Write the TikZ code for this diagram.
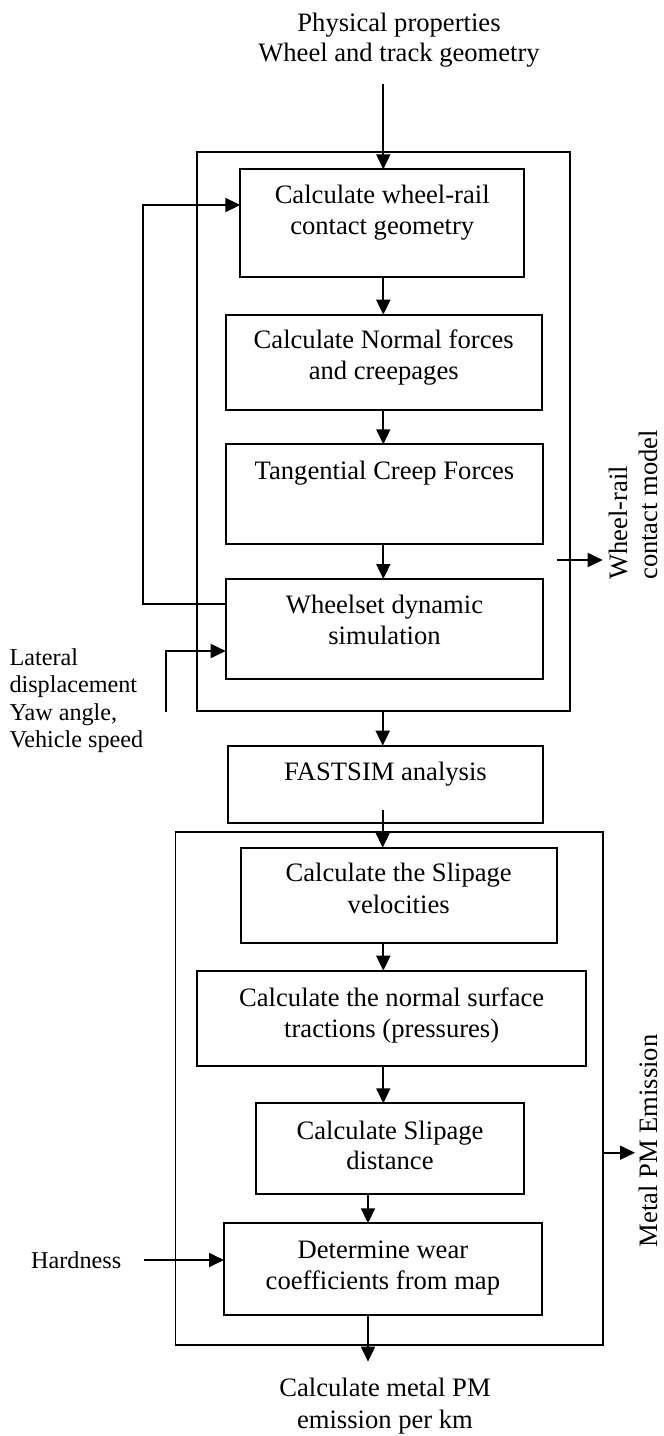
\documentclass[tikz,border=0pt]{standalone}
\usepackage{fontspec}
\setmainfont{Liberation Serif}
\usetikzlibrary{arrows.meta}
\begin{document}
\begin{tikzpicture}[x=1pt,y=-1pt,
  box/.style={draw, line width=1.8pt, inner sep=0pt, outer sep=0pt},
  txt/.style={anchor=base, inner sep=0pt, font=\fontsize{26.6}{31}\selectfont},
  sml/.style={anchor=base west, inner sep=0pt, font=\fontsize{24.2}{28}\selectfont},
  arr/.style={line width=1.8pt, -{Triangle[length=15pt,width=14pt]}},
  ln/.style={line width=1.8pt}]
\useasboundingbox (0,0) rectangle (664,1436);
% outer boxes
\node[box, minimum width=372.7pt, minimum height=559.3pt] (o1) at (383.65,431.35) {};
\node[box, minimum width=427.8pt, minimum height=513.3pt] (o2) at (389.4,1088.35) {};
% inner boxes
\node[box, minimum width=283.7pt, minimum height=108pt] (b1) at (382.2,223.3) {};
\node[box, minimum width=316pt, minimum height=95.3pt] (b2) at (383.7,362.35) {};
\node[box, minimum width=317.6pt, minimum height=100pt] (b3) at (384.5,494.3) {};
\node[box, minimum width=317.6pt, minimum height=100pt] (b4) at (384.5,629) {};
\node[box, minimum width=315.6pt, minimum height=77pt] (bF) at (385.5,784.2) {};
\node[box, minimum width=316pt, minimum height=95.6pt] (b5) at (398.7,895.5) {};
\node[box, minimum width=388.7pt, minimum height=95.3pt] (b6) at (391.65,1018.35) {};
\node[box, minimum width=268pt, minimum height=90.4pt] (b7) at (390,1148.5) {};
\node[box, minimum width=317.7pt, minimum height=91.7pt] (b8) at (382.85,1269.15) {};
% texts
\node[txt] (tp1) at (399,31) {Physical properties};
\node[txt] (tp2) at (399,61.7) {Wheel and track geometry};
\node[txt] (t1a) at (382.2,203.3) {Calculate wheel-rail};
\node[txt] (t1b) at (382.2,234.5) {contact geometry};
\node[txt] (t2a) at (383.7,348.3) {Calculate Normal forces};
\node[txt] (t2b) at (383.7,379.3) {and creepages};
\node[txt] (t3a) at (384.5,479.3) {Tangential Creep Forces};
\node[txt] (t4a) at (384.5,613.3) {Wheelset dynamic};
\node[txt] (t4b) at (384.5,644.3) {simulation};
\node[txt] (tFa) at (385.5,780) {FASTSIM analysis};
\node[txt] (t5a) at (398.7,881.7) {Calculate the Slipage};
\node[txt] (t5b) at (398.7,913.3) {velocities};
\node[txt] (t6a) at (391.7,1006.7) {Calculate the normal surface};
\node[txt] (t6b) at (391.7,1037.3) {tractions (pressures)};
\node[txt] (t7a) at (390,1139.3) {Calculate Slipage};
\node[txt] (t7b) at (390,1169.3) {distance};
\node[txt] (t8a) at (382.9,1258.3) {Determine wear};
\node[txt] (t8b) at (382.9,1289.5) {coefficients from map};
\node[txt] (tEa) at (385,1396.7) {Calculate metal PM};
\node[txt] (tEb) at (385,1428) {emission per km};
\node[sml] (lat1) at (9.3,665) {Lateral};
\node[sml] (lat2) at (9.3,692.5) {displacement};
\node[sml] (lat3) at (9.3,720) {Yaw angle,};
\node[sml] (lat4) at (9.3,747.5) {Vehicle speed};
\node[sml] (hard) at (31,1268) {Hardness};
\node[txt, rotate=90, anchor=base west] (wr1) at (627,580) {Wheel-rail};
\node[txt, rotate=90, anchor=base west] (wr2) at (657,580) {contact model};
\node[txt, rotate=90, anchor=base] (pm) at (657,1141) {Metal PM Emission};
% coordinates
\coordinate (ax) at (383.3,0);
\coordinate (topA) at (383.3,84);
\coordinate (fbA) at (142.7,604.3);
\coordinate (fbB) at (142.7,205);
\coordinate (inA) at (165.7,711.7);
\coordinate (inB) at (165.7,651);
\coordinate (fsA) at (382.7,810);
\coordinate (ax2) at (368,0);
\coordinate (endE) at (368,1361.7);
\coordinate (hA) at (144.3,1260);
\coordinate (r1A) at (556.7,560);
\coordinate (r1B) at (602.7,560);
\coordinate (r2A) at (603.3,1152.7);
\coordinate (r2B) at (635,1152.7);
% connectors
\draw[arr] (topA) -- (topA |- b1.north);
\draw[arr] (b1.south -| ax) -- (b2.north -| ax);
\draw[arr] (b2.south -| ax) -- (b3.north -| ax);
\draw[arr] (b3.south -| ax) -- (b4.north -| ax);
\draw[arr] (b4.west |- fbA) -- (fbA) -- (fbB) -- (b1.west |- fbB);
\draw[arr] (inA) -- (inB) -- (b4.west |- inB);
\draw[arr] (o1.south -| fsA) -- (bF.north -| fsA);
\draw[arr] (fsA) -- (fsA |- b5.north);
\draw[arr] (b5.south -| ax) -- (b6.north -| ax);
\draw[arr] (b6.south -| ax) -- (b7.north -| ax);
\draw[arr] (b7.south -| ax2) -- (b8.north -| ax2);
\draw[arr] (b8.south -| endE) -- (endE);
\draw[arr] (hA) -- (b8.west |- hA);
\draw[arr] (r1A) -- (r1B);
\draw[arr] (r2A) -- (r2B);
\end{tikzpicture}
\end{document}
